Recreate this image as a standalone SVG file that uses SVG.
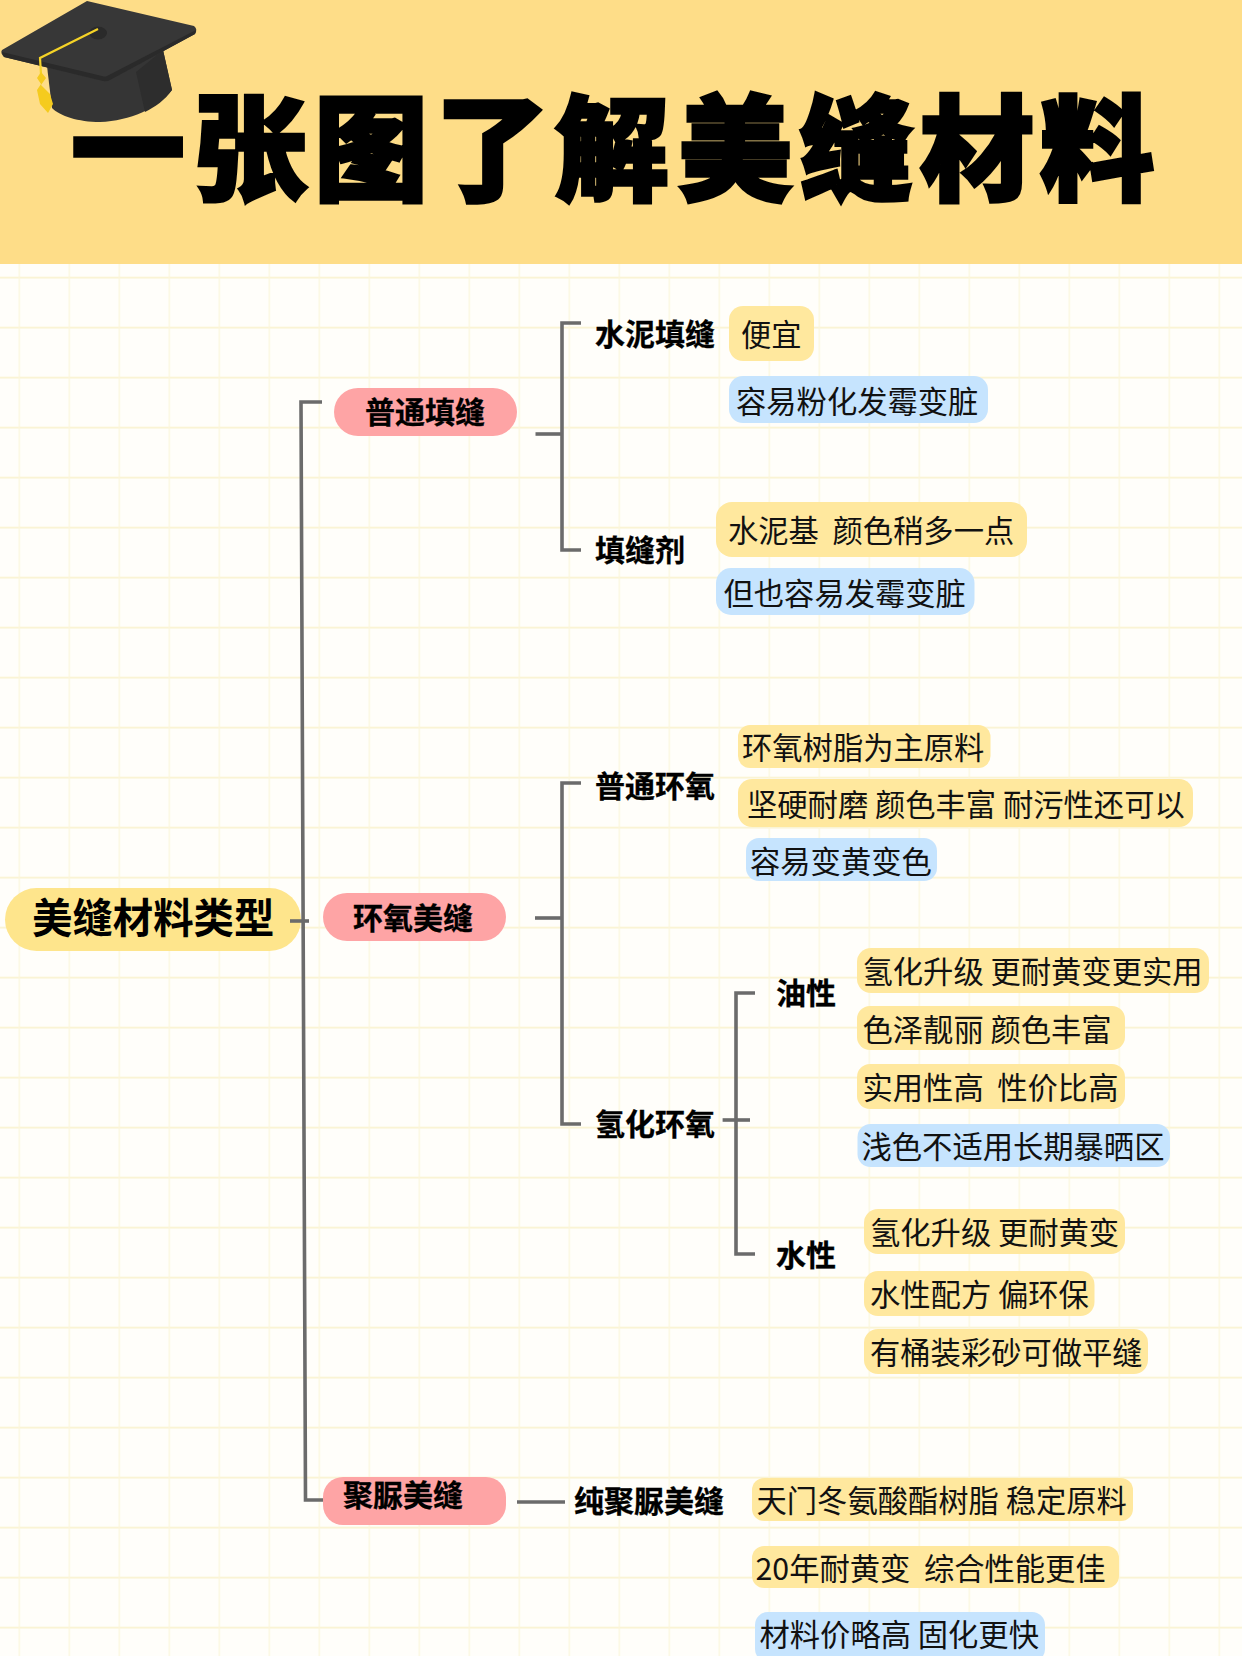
<svg xmlns="http://www.w3.org/2000/svg" width="1242" height="1656" viewBox="0 0 1242 1656">
<defs>
<pattern id="grid" patternUnits="userSpaceOnUse" x="18.6" y="26.7" width="50" height="50">
<path d="M0 0H50" stroke="#faf3d2" stroke-width="3.6" fill="none"/>
<path d="M0 0V50" stroke="#fbf6dc" stroke-width="2.6" fill="none"/>
</pattern>
</defs>
<style>
text{font-family:"Noto Sans CJK SC","Noto Sans",sans-serif;fill:#111;white-space:pre}
.t{font-size:30.3px;font-weight:400}
.b{font-size:30px;font-weight:700;fill:#000;stroke:#000;stroke-width:.3}
.y{fill:#ffe89e}
.u{fill:#c6e4fe}
.p{fill:#fea4a5}
.l{fill:none;stroke:#6b6b6b;stroke-width:3.6}
</style>
<rect width="1242" height="1656" fill="#fffefa"/>
<rect y="264" width="1242" height="1392" fill="url(#grid)"/>
<rect id="header" width="1242" height="264" fill="#fedd88"/>
<text id="title" x="71 193 314 435 555 678 799 920 1040" y="191" font-size="114" font-weight="900" stroke="#000" stroke-width="3.5" style="fill:#000">一张图了解美缝材料</text>
<g id="hat">
<path d="M47 66L163 50L172 90C158 108 130 121 100 122C78 122 60 116 52 108Z" fill="#353535"/>
<path d="M136 72L163 50L172 90C165 100 155 107 145 112Z" fill="#2d2d2d"/>
<path d="M87 1L194 26Q198 29 195 34L110 80Q107 82 103 81L4 57Q0 53 2 50Z" fill="#373737"/>
<path d="M2 52L4 57L103 81Q107 82 110 80L195 34L196 30L107 76Q105 77 102 76Z" fill="#2a2a2a"/>
<ellipse cx="98" cy="33" rx="9" ry="6.5" fill="#2a2a2a"/>
<path d="M98 29L40 58L41 74" fill="none" stroke="#f5d327" stroke-width="2.2"/>
<path d="M41 72L46 78L41 85L50 94L53 104L48 113L40 104L37 90L41 84L37 78Z" fill="#f5cb1e"/>
</g>
<g id="connectors">
<path class="l" d="M322 402H301L305.5 1500H323"/>
<path class="l" d="M535.5 434H562"/>
<path class="l" d="M581 323H562V550H581"/>
<path class="l" d="M535 918H562"/>
<path class="l" d="M581 783H562V1124H581"/>
<path class="l" d="M722.6 1120H750"/>
<path class="l" d="M755 993H736V1254H755"/>
<path class="l" d="M517 1502H565"/>
</g>
<g id="root"><rect x="5" y="888" width="296" height="63" rx="31.5" fill="#fee58c"/><text x="32" y="933" font-size="40.4" font-weight="700" style="fill:#000">美缝材料类型</text></g>
<path class="l" d="M290 921H309"/>
<g id="n-putong"><rect class="p" x="334" y="388" width="183" height="48" rx="24"/><text class="b" x="365" y="423">普通填缝</text></g>
<g id="n-huanyang"><rect class="p" x="323" y="893" width="183" height="48" rx="24"/><text class="b" x="353" y="929">环氧美缝</text></g>
<g id="n-juniao"><rect class="p" x="323" y="1477" width="183" height="48" rx="20"/><text class="b" x="343" y="1506">聚脲美缝</text></g>
<g id="l1"><text class="b" x="595" y="345">水泥填缝</text></g>
<g id="l2"><text class="b" x="595" y="561">填缝剂</text></g>
<g id="l3"><text class="b" x="595" y="797">普通环氧</text></g>
<g id="l4"><text class="b" x="595" y="1135">氢化环氧</text></g>
<g id="l5"><text class="b" x="776" y="1004">油性</text></g>
<g id="l6"><text class="b" x="776" y="1266">水性</text></g>
<g id="l7"><text class="b" x="574" y="1512">纯聚脲美缝</text></g>
<g id="t1"><rect class="y" x="729" y="306" width="85" height="55" rx="14"/><text class="t" x="741" y="346">便宜</text></g>
<g id="t2"><rect class="u" x="729" y="376" width="259" height="47" rx="14"/><text class="t" x="736" y="413">容易粉化发霉变脏</text></g>
<g id="t3"><rect class="y" x="716" y="502" width="311" height="55" rx="16"/><text class="t" x="728" y="542">水泥基  颜色稍多一点</text></g>
<g id="t4"><rect class="u" x="716" y="568" width="258.5" height="47" rx="15"/><text class="t" x="723.5" y="605">但也容易发霉变脏</text></g>
<g id="t5"><rect class="y" x="738" y="725" width="252.5" height="43" rx="12"/><text class="t" x="742" y="759">环氧树脂为主原料</text></g>
<g id="t6"><rect class="y" x="738" y="779" width="455" height="48" rx="14"/><text class="t" x="747" y="816">坚硬耐磨 颜色丰富 耐污性还可以</text></g>
<g id="t7"><rect class="u" x="746" y="838" width="191" height="43" rx="13"/><text class="t" x="750" y="873">容易变黄变色</text></g>
<g id="t8"><rect class="y" x="857" y="948" width="352" height="45" rx="14"/><text class="t" x="862.5" y="983">氢化升级 更耐黄变更实用</text></g>
<g id="t9"><rect class="y" x="857" y="1006" width="268" height="44" rx="13"/><text class="t" x="862.5" y="1041">色泽靓丽 颜色丰富</text></g>
<g id="t10"><rect class="y" x="857" y="1064" width="268" height="45" rx="13"/><text class="t" x="862.5" y="1099">实用性高  性价比高</text></g>
<g id="t11"><rect class="u" x="857.5" y="1124" width="312.5" height="43" rx="13"/><text class="t" x="861.5" y="1158">浅色不适用长期暴晒区</text></g>
<g id="t12"><rect class="y" x="864" y="1209" width="261" height="45" rx="14"/><text class="t" x="870" y="1244">氢化升级 更耐黄变</text></g>
<g id="t13"><rect class="y" x="864" y="1271" width="230.5" height="45" rx="14"/><text class="t" x="870" y="1306">水性配方 偏环保</text></g>
<g id="t14"><rect class="y" x="864" y="1329" width="284" height="45" rx="14"/><text class="t" x="870" y="1364">有桶装彩砂可做平缝</text></g>
<g id="t15"><rect class="y" x="752" y="1478" width="381" height="43" rx="12"/><text class="t" x="756.5" y="1512">天门冬氨酸酯树脂 稳定原料</text></g>
<g id="t16"><rect class="y" x="752" y="1546" width="367" height="42" rx="12"/><text class="t" x="755.5" y="1580">20年耐黄变  综合性能更佳</text></g>
<g id="t17"><rect class="u" x="755" y="1612" width="290" height="50" rx="13"/><text class="t" x="759.5" y="1646">材料价略高 固化更快</text></g>
</svg>
